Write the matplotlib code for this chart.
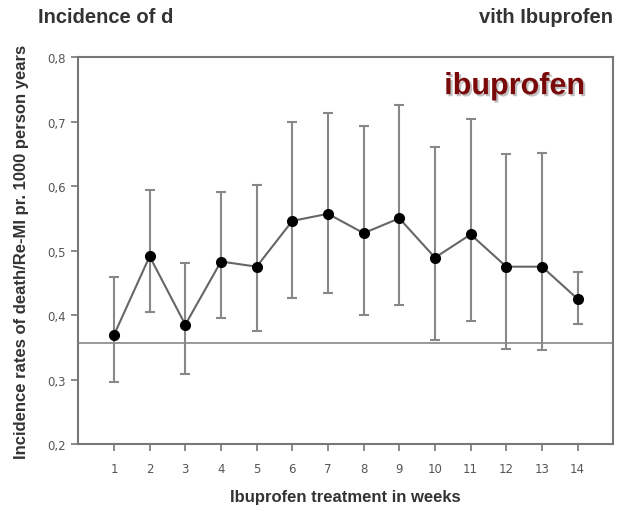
import matplotlib
matplotlib.use("Agg")
import matplotlib.pyplot as plt
import matplotlib.patheffects as pe
from matplotlib.ticker import FuncFormatter

# Data
weeks = [1, 2, 3, 4, 5, 6, 7, 8, 9, 10, 11, 12, 13, 14]
rate = [0.369, 0.491, 0.385, 0.483, 0.475, 0.546, 0.557, 0.527, 0.550, 0.489, 0.525, 0.475, 0.475, 0.425]
upper = [0.459, 0.594, 0.480, 0.591, 0.601, 0.699, 0.713, 0.693, 0.725, 0.660, 0.704, 0.650, 0.652, 0.466]
lower = [0.296, 0.404, 0.308, 0.396, 0.375, 0.427, 0.434, 0.400, 0.416, 0.362, 0.391, 0.347, 0.346, 0.386]
baseline = 0.356
y_ticks = [0.2, 0.3, 0.4, 0.5, 0.6, 0.7, 0.8]

grey = "#777777"
tick_grey = "#555555"

fig = plt.figure(figsize=(6.19, 5.10), dpi=100)
ax = fig.add_axes([0.1265, 0.1275, 0.8643, 0.7585])

err_lo = [r - l for r, l in zip(rate, lower)]
err_hi = [u - r for r, u in zip(rate, upper)]
ax.errorbar(weeks, rate, yerr=[err_lo, err_hi], fmt="none", ecolor="#888888",
            elinewidth=1.5, capsize=3.5, capthick=1.5, zorder=2)
ax.plot(weeks, rate, color="#666666", lw=1.5, zorder=3)
ax.plot(weeks, rate, "o", color="black", ms=7, zorder=4)
ax.axhline(baseline, color="#888888", lw=1.2, zorder=1)

ax.set_xlim(0, 15)
ax.set_ylim(0.2, 0.8)
ax.set_xticks(weeks)
ax.set_yticks(y_ticks)
ax.yaxis.set_major_formatter(FuncFormatter(lambda v, p: f"{v:.1f}".replace(".", ",")))

for s in ax.spines.values():
    s.set_color(grey)
    s.set_linewidth(1.5)
ax.tick_params(direction="out", length=5, width=1.2, color=grey,
               labelcolor=tick_grey, labelsize=8.5, pad=4)
ax.tick_params(axis="x", pad=8)

lab_font = dict(family=["Liberation Sans", "DejaVu Sans"], fontweight="bold", color="#333333")
ax.set_ylabel("Incidence rates of death/Re-MI pr. 1000 person years", fontsize=12, labelpad=13, **lab_font)
ax.set_xlabel("Ibuprofen treatment in weeks", fontsize=12, labelpad=10, **lab_font)

# Title (middle part hidden in the reference)
fig.text(0.062, 0.965, "Incidence of d", fontsize=14.5, ha="left", va="center", **lab_font)
fig.text(0.99, 0.965, "vith Ibuprofen", fontsize=14.5, ha="right", va="center", **lab_font)

ax.text(0.947, 0.925, "ibuprofen", transform=ax.transAxes, ha="right", va="center",
        fontsize=22, fontweight="bold", color="#7a0a0a",
        family=["Liberation Sans", "DejaVu Sans"],
        path_effects=[pe.withSimplePatchShadow(offset=(1.5, -1.5), shadow_rgbFace="#999999", alpha=0.6)])

fig.savefig("out.png", dpi=100)
